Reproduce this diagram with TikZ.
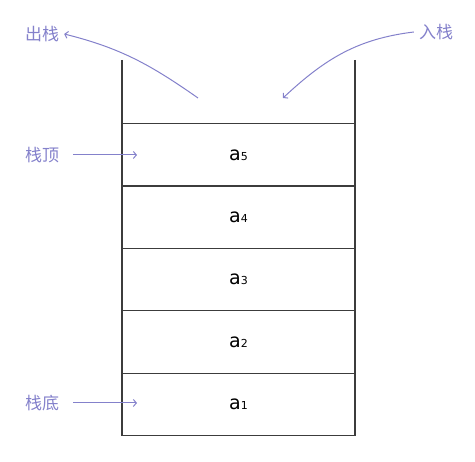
\documentclass[tikz,border=0pt]{standalone}
\usepackage{fontspec}
\setmainfont{DejaVu Sans}
\newfontfamily\cjkfont{Noto Sans CJK SC}
\usepackage{tikz}
\usetikzlibrary{positioning,arrows.meta}
\definecolor{cWall}{HTML}{3C3C3C}
\definecolor{cLilac}{HTML}{8481CB}

\newcommand{\elem}[1]{{\fontsize{19}{22}\selectfont a}{\fontsize{11}{13}\selectfont #1}}

\begin{document}
\begin{tikzpicture}[x=1pt, y=1pt,
    cell/.style={draw=cWall, line width=1.2pt, minimum width=233pt,
      minimum height=62.4pt, inner sep=0pt, outer sep=0pt},
    tag/.style={text=cLilac, font=\cjkfont\fontsize{17}{19}\selectfont, inner sep=0pt},
    push/.style={draw=cLilac, line width=1pt, -{Straight Barb[length=3pt,width=7pt]}}]
    \useasboundingbox (0,0) rectangle (475,462);

    % --- stack cells, a1 at the bottom ------------------------------
    \foreach \i in {1,...,5}{
      \node[cell] (c\i) at (238.5,{57.5+62.4*(\i-1)}) {\elem{\i}};
    }
    % --- open walls above the top cell ------------------------------
    \coordinate (wl) at (122,402);
    \coordinate (wr) at (355,402);
    \draw[cWall, line width=1.2pt] (wl) -- (c5.north west);
    \draw[cWall, line width=1.2pt] (wr) -- (c5.north east);

    % --- labels -----------------------------------------------------
    \node[tag] (out) at (42,428) {出栈};
    \node[tag] (in) at (436,430) {入栈};
    \node[tag] (top) at (42,307) {栈顶};
    \node[tag] (bot) at (42,59) {栈底};

    % --- arrows -----------------------------------------------------
    \coordinate (outs) at (198,364);
    \coordinate (ine) at (283,364);
    \coordinate (topin) at (137,307);
    \coordinate (botin) at (137,59);
    \draw[push] (outs) to[out=145,in=-14] ([xshift=5pt]out.east);
    \draw[push] ([xshift=-5pt]in.west) to[out=187,in=43] (ine);
    \draw[push] ([xshift=14pt]top.east) -- (topin);
    \draw[push] ([xshift=14pt]bot.east) -- (botin);
  \end{tikzpicture}
\end{document}
